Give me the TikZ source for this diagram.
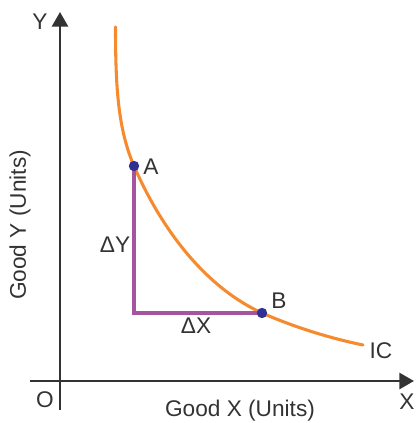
\documentclass[tikz,border=0pt]{standalone}
\usepackage{fontspec}
\setmainfont{Liberation Sans}
\usetikzlibrary{arrows.meta}
\definecolor{axisgray}{HTML}{333333}
\definecolor{txtgray}{HTML}{333333}
\definecolor{icorange}{HTML}{F58A2E}
\definecolor{trpurple}{HTML}{A5559F}
\definecolor{dotblue}{HTML}{2E3192}
\begin{document}
\begin{tikzpicture}[x=0.75pt,y=-0.75pt,
  axis/.style={draw=axisgray,line width=2.2pt,-{Triangle[length=11pt,width=12pt]}},
  lbl/.style={text=txtgray,font=\fontsize{17}{19}\selectfont,inner sep=0pt},
  dot/.style={circle,fill=dotblue,inner sep=0pt,minimum size=7.8pt},
  tri/.style={draw=trpurple,line width=2.5pt},
  curve/.style={draw=icorange,line width=2.3pt,line cap=round}]
\useasboundingbox (0,0) rectangle (415,423);
% axes
\coordinate (ybot) at (60,410);
\coordinate (ytop) at (60,12);
\coordinate (xleft) at (30,381);
\coordinate (xright) at (414,381);
\draw[axis] (ybot) -- (ytop);
\draw[axis] (xleft) -- (xright);
% points
\coordinate (Top) at (115.5,27);
\coordinate (Apt) at (134,166);
\coordinate (Bpt) at (262,313);
\coordinate (End) at (363,345);
\coordinate (C) at (134,313);
% curve
\draw[curve] (Top) .. controls (115.5,87) and (118,129) .. (Apt)
  .. controls (160,226) and (203,286) .. (Bpt)
  .. controls (294,327) and (329,338) .. (End);
% triangle
\draw[tri] (Apt) -- (C) -- (Bpt);
\node[dot] (A) at (Apt) {};
\node[dot] (B) at (Bpt) {};
% labels
\node[lbl] (Ylab) at (40,22) {Y};
\node[lbl] (Olab) at (45,400) {O};
\node[lbl] (Xlab) at (407,402) {X};
\node[lbl] (gx) at (240,411) {Good X (Units)};
\node[lbl,rotate=90] (gy) at (20,225) {Good Y (Units)};
\node[lbl] (Alab) at (151,167) {A};
\node[lbl] (Blab) at (279,301) {B};
\node[lbl] (IC) at (381,351) {IC};
\node[lbl] (dY) at (115,245) {ΔY};
\node[lbl] (dX) at (196,326) {ΔX};
\end{tikzpicture}
\end{document}
